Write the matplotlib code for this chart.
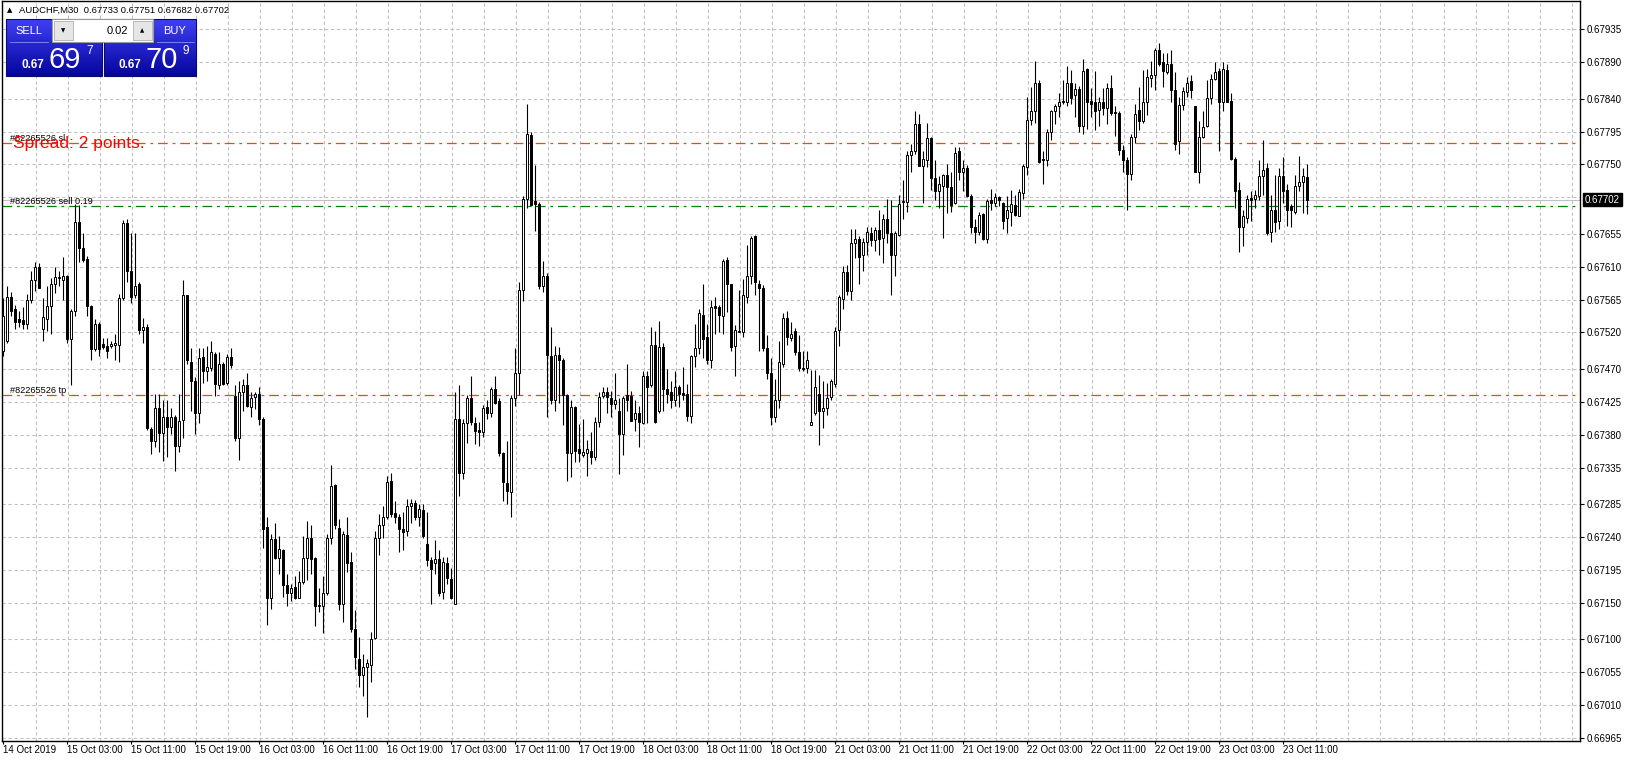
import matplotlib
matplotlib.use("Agg")
import matplotlib.pyplot as plt
import numpy as np
from matplotlib.patches import Rectangle

plt.rcParams['font.family'] = ['Liberation Sans', 'DejaVu Sans']
plt.rcParams['lines.scale_dashes'] = False

# ---------------- data (AUDCHF M30) ----------------
opens = [
    0.67494, 0.67509, 0.67569, 0.67552, 0.67538, 0.67537, 0.67531, 0.67564, 0.67592, 0.67610,
    0.67525, 0.67538, 0.67556, 0.67586, 0.67594, 0.67592, 0.67598, 0.67511, 0.67549, 0.67671,
    0.67636, 0.67621, 0.67556, 0.67497, 0.67531, 0.67504, 0.67501, 0.67501, 0.67503, 0.67503,
    0.67567, 0.67670, 0.67604, 0.67571, 0.67587, 0.67523, 0.67528, 0.67388, 0.67372, 0.67416,
    0.67382, 0.67404, 0.67390, 0.67404, 0.67364, 0.67400, 0.67571, 0.67479, 0.67453, 0.67410,
    0.67486, 0.67467, 0.67471, 0.67491, 0.67448, 0.67477, 0.67451, 0.67487, 0.67433, 0.67375,
    0.67438, 0.67448, 0.67418, 0.67432, 0.67436, 0.67401, 0.67254, 0.67157, 0.67237, 0.67212,
    0.67222, 0.67175, 0.67163, 0.67171, 0.67157, 0.67179, 0.67212, 0.67239, 0.67212, 0.67146,
    0.67146, 0.67164, 0.67239, 0.67311, 0.67253, 0.67149, 0.67243, 0.67206, 0.67114, 0.67073,
    0.67051, 0.67062, 0.67065, 0.67102, 0.67239, 0.67257, 0.67267, 0.67317, 0.67273, 0.67267,
    0.67251, 0.67249, 0.67283, 0.67286, 0.67267, 0.67277, 0.67231, 0.67208, 0.67204, 0.67210,
    0.67165, 0.67204, 0.67182, 0.67149, 0.67401, 0.67328, 0.67396, 0.67430, 0.67396, 0.67387,
    0.67384, 0.67418, 0.67410, 0.67442, 0.67426, 0.67355, 0.67314, 0.67302, 0.67430, 0.67465,
    0.67578, 0.67703, 0.67790, 0.67700, 0.67696, 0.67583, 0.67597, 0.67488, 0.67428, 0.67489,
    0.67482, 0.67434, 0.67355, 0.67418, 0.67361, 0.67352, 0.67355, 0.67358, 0.67349, 0.67397,
    0.67433, 0.67438, 0.67430, 0.67422, 0.67413, 0.67381, 0.67434, 0.67433, 0.67401, 0.67410,
    0.67396, 0.67460, 0.67448, 0.67503, 0.67413, 0.67500, 0.67442, 0.67438, 0.67427, 0.67445,
    0.67437, 0.67436, 0.67406, 0.67488, 0.67499, 0.67544, 0.67514, 0.67483, 0.67556, 0.67555,
    0.67542, 0.67619, 0.67586, 0.67501, 0.67520, 0.67520, 0.67569, 0.67597, 0.67652, 0.67587,
    0.67581, 0.67499, 0.67465, 0.67404, 0.67428, 0.67477, 0.67540, 0.67512, 0.67522, 0.67493,
    0.67471, 0.67471, 0.67393, 0.67410, 0.67436, 0.67413, 0.67416, 0.67432, 0.67450, 0.67523,
    0.67566, 0.67603, 0.67577, 0.67642, 0.67648, 0.67626, 0.67644, 0.67656, 0.67646, 0.67660,
    0.67650, 0.67675, 0.67656, 0.67626, 0.67654, 0.67699, 0.67699, 0.67763, 0.67768, 0.67806,
    0.67748, 0.67756, 0.67786, 0.67731, 0.67714, 0.67721, 0.67735, 0.67719, 0.67697, 0.67768,
    0.67740, 0.67745, 0.67707, 0.67665, 0.67658, 0.67682, 0.67648, 0.67702, 0.67697, 0.67705,
    0.67697, 0.67677, 0.67685, 0.67694, 0.67679, 0.67711, 0.67746, 0.67811, 0.67823, 0.67862,
    0.67757, 0.67756, 0.67795, 0.67823, 0.67830, 0.67836, 0.67836, 0.67861, 0.67845, 0.67853,
    0.67803, 0.67880, 0.67837, 0.67835, 0.67824, 0.67836, 0.67827, 0.67855, 0.67822, 0.67821,
    0.67770, 0.67756, 0.67737, 0.67787, 0.67825, 0.67809, 0.67835, 0.67868, 0.67872, 0.67907,
    0.67890, 0.67876, 0.67888, 0.67852, 0.67782, 0.67831, 0.67849, 0.67864, 0.67830, 0.67740,
    0.67787, 0.67803, 0.67841, 0.67867, 0.67878, 0.67836, 0.67879, 0.67837, 0.67757, 0.67715,
    0.67664, 0.67677, 0.67704, 0.67703, 0.67707, 0.67734, 0.67745, 0.67658, 0.67687, 0.67672,
    0.67734, 0.67715, 0.67693, 0.67685, 0.67721, 0.67726, 0.67733,
]
highs = [
    0.67567, 0.67583, 0.67575, 0.67558, 0.67549, 0.67555, 0.67573, 0.67604, 0.67617, 0.67615,
    0.67567, 0.67583, 0.67595, 0.67610, 0.67604, 0.67624, 0.67599, 0.67552, 0.67696, 0.67694,
    0.67656, 0.67625, 0.67558, 0.67538, 0.67534, 0.67512, 0.67512, 0.67509, 0.67518, 0.67573,
    0.67674, 0.67676, 0.67656, 0.67656, 0.67589, 0.67540, 0.67531, 0.67390, 0.67436, 0.67436,
    0.67427, 0.67427, 0.67416, 0.67407, 0.67436, 0.67592, 0.67572, 0.67499, 0.67459, 0.67499,
    0.67499, 0.67501, 0.67508, 0.67493, 0.67493, 0.67479, 0.67491, 0.67499, 0.67448, 0.67454,
    0.67456, 0.67465, 0.67439, 0.67438, 0.67446, 0.67404, 0.67267, 0.67244, 0.67259, 0.67242,
    0.67223, 0.67190, 0.67176, 0.67187, 0.67194, 0.67242, 0.67262, 0.67256, 0.67213, 0.67170,
    0.67187, 0.67244, 0.67338, 0.67312, 0.67265, 0.67249, 0.67268, 0.67220, 0.67140, 0.67103,
    0.67080, 0.67073, 0.67110, 0.67249, 0.67271, 0.67283, 0.67324, 0.67328, 0.67289, 0.67271,
    0.67274, 0.67292, 0.67292, 0.67291, 0.67285, 0.67285, 0.67274, 0.67213, 0.67236, 0.67222,
    0.67213, 0.67213, 0.67198, 0.67438, 0.67448, 0.67401, 0.67434, 0.67460, 0.67404, 0.67397,
    0.67421, 0.67428, 0.67445, 0.67460, 0.67430, 0.67357, 0.67372, 0.67434, 0.67499, 0.67589,
    0.67707, 0.67833, 0.67795, 0.67749, 0.67699, 0.67618, 0.67601, 0.67528, 0.67501, 0.67500,
    0.67485, 0.67436, 0.67428, 0.67420, 0.67395, 0.67401, 0.67373, 0.67384, 0.67404, 0.67438,
    0.67445, 0.67446, 0.67440, 0.67465, 0.67430, 0.67433, 0.67477, 0.67440, 0.67427, 0.67420,
    0.67467, 0.67467, 0.67528, 0.67522, 0.67536, 0.67506, 0.67470, 0.67454, 0.67467, 0.67448,
    0.67473, 0.67450, 0.67489, 0.67531, 0.67552, 0.67587, 0.67532, 0.67564, 0.67569, 0.67558,
    0.67621, 0.67624, 0.67587, 0.67530, 0.67578, 0.67593, 0.67640, 0.67652, 0.67653, 0.67592,
    0.67585, 0.67516, 0.67485, 0.67456, 0.67509, 0.67546, 0.67550, 0.67534, 0.67526, 0.67516,
    0.67495, 0.67495, 0.67468, 0.67468, 0.67462, 0.67454, 0.67451, 0.67456, 0.67528, 0.67572,
    0.67611, 0.67613, 0.67662, 0.67662, 0.67652, 0.67650, 0.67665, 0.67665, 0.67664, 0.67687,
    0.67682, 0.67703, 0.67702, 0.67659, 0.67708, 0.67729, 0.67768, 0.67778, 0.67823, 0.67819,
    0.67769, 0.67807, 0.67788, 0.67756, 0.67734, 0.67737, 0.67751, 0.67740, 0.67774, 0.67774,
    0.67756, 0.67749, 0.67709, 0.67675, 0.67685, 0.67683, 0.67703, 0.67717, 0.67711, 0.67707,
    0.67699, 0.67707, 0.67715, 0.67708, 0.67717, 0.67751, 0.67842, 0.67856, 0.67891, 0.67866,
    0.67768, 0.67798, 0.67824, 0.67833, 0.67848, 0.67866, 0.67885, 0.67879, 0.67861, 0.67858,
    0.67894, 0.67882, 0.67855, 0.67878, 0.67842, 0.67855, 0.67862, 0.67872, 0.67830, 0.67823,
    0.67776, 0.67760, 0.67792, 0.67833, 0.67856, 0.67879, 0.67880, 0.67891, 0.67910, 0.67916,
    0.67903, 0.67903, 0.67907, 0.67876, 0.67842, 0.67856, 0.67870, 0.67873, 0.67830, 0.67809,
    0.67823, 0.67866, 0.67874, 0.67890, 0.67882, 0.67890, 0.67888, 0.67848, 0.67760, 0.67726,
    0.67687, 0.67708, 0.67713, 0.67715, 0.67756, 0.67784, 0.67752, 0.67708, 0.67735, 0.67745,
    0.67760, 0.67723, 0.67696, 0.67735, 0.67762, 0.67745, 0.67751,
]
lows = [
    0.67488, 0.67506, 0.67543, 0.67525, 0.67528, 0.67525, 0.67525, 0.67560, 0.67577, 0.67581,
    0.67509, 0.67522, 0.67518, 0.67574, 0.67583, 0.67564, 0.67506, 0.67448, 0.67543, 0.67616,
    0.67616, 0.67543, 0.67483, 0.67494, 0.67488, 0.67497, 0.67485, 0.67499, 0.67482, 0.67479,
    0.67564, 0.67589, 0.67560, 0.67567, 0.67518, 0.67506, 0.67387, 0.67354, 0.67363, 0.67357,
    0.67344, 0.67349, 0.67381, 0.67330, 0.67357, 0.67375, 0.67477, 0.67412, 0.67381, 0.67396,
    0.67451, 0.67454, 0.67467, 0.67433, 0.67442, 0.67448, 0.67448, 0.67471, 0.67371, 0.67346,
    0.67412, 0.67418, 0.67404, 0.67415, 0.67393, 0.67225, 0.67120, 0.67141, 0.67210, 0.67190,
    0.67158, 0.67146, 0.67153, 0.67155, 0.67157, 0.67176, 0.67181, 0.67190, 0.67118, 0.67137,
    0.67109, 0.67161, 0.67231, 0.67251, 0.67140, 0.67124, 0.67192, 0.67110, 0.67060, 0.67035,
    0.67022, 0.66994, 0.67041, 0.67100, 0.67216, 0.67239, 0.67265, 0.67267, 0.67259, 0.67220,
    0.67222, 0.67241, 0.67259, 0.67263, 0.67255, 0.67239, 0.67201, 0.67149, 0.67190, 0.67159,
    0.67155, 0.67176, 0.67155, 0.67149, 0.67296, 0.67320, 0.67369, 0.67393, 0.67367, 0.67364,
    0.67377, 0.67401, 0.67404, 0.67422, 0.67351, 0.67289, 0.67285, 0.67267, 0.67420, 0.67434,
    0.67563, 0.67690, 0.67693, 0.67659, 0.67580, 0.67575, 0.67405, 0.67422, 0.67412, 0.67424,
    0.67393, 0.67317, 0.67322, 0.67343, 0.67343, 0.67349, 0.67324, 0.67340, 0.67346, 0.67391,
    0.67430, 0.67410, 0.67404, 0.67415, 0.67326, 0.67352, 0.67412, 0.67399, 0.67385, 0.67363,
    0.67395, 0.67396, 0.67445, 0.67396, 0.67410, 0.67413, 0.67424, 0.67416, 0.67420, 0.67418,
    0.67428, 0.67399, 0.67396, 0.67473, 0.67491, 0.67485, 0.67477, 0.67471, 0.67518, 0.67520,
    0.67518, 0.67548, 0.67495, 0.67460, 0.67520, 0.67514, 0.67561, 0.67587, 0.67571, 0.67495,
    0.67495, 0.67456, 0.67393, 0.67397, 0.67416, 0.67473, 0.67503, 0.67508, 0.67489, 0.67467,
    0.67467, 0.67465, 0.67393, 0.67407, 0.67366, 0.67389, 0.67407, 0.67428, 0.67446, 0.67501,
    0.67552, 0.67571, 0.67564, 0.67622, 0.67586, 0.67604, 0.67626, 0.67638, 0.67632, 0.67626,
    0.67615, 0.67642, 0.67571, 0.67597, 0.67652, 0.67675, 0.67685, 0.67740, 0.67764, 0.67748,
    0.67697, 0.67746, 0.67715, 0.67702, 0.67691, 0.67650, 0.67684, 0.67685, 0.67696, 0.67729,
    0.67714, 0.67705, 0.67656, 0.67642, 0.67654, 0.67647, 0.67642, 0.67688, 0.67693, 0.67693,
    0.67662, 0.67656, 0.67666, 0.67679, 0.67679, 0.67703, 0.67735, 0.67804, 0.67807, 0.67752,
    0.67723, 0.67748, 0.67784, 0.67806, 0.67815, 0.67833, 0.67830, 0.67833, 0.67815, 0.67795,
    0.67792, 0.67798, 0.67815, 0.67797, 0.67803, 0.67818, 0.67806, 0.67818, 0.67789, 0.67763,
    0.67740, 0.67688, 0.67729, 0.67780, 0.67797, 0.67807, 0.67817, 0.67856, 0.67852, 0.67885,
    0.67856, 0.67874, 0.67836, 0.67770, 0.67764, 0.67825, 0.67842, 0.67841, 0.67740, 0.67725,
    0.67786, 0.67801, 0.67833, 0.67866, 0.67769, 0.67823, 0.67835, 0.67756, 0.67691, 0.67630,
    0.67639, 0.67670, 0.67672, 0.67691, 0.67701, 0.67708, 0.67654, 0.67644, 0.67658, 0.67662,
    0.67697, 0.67666, 0.67664, 0.67682, 0.67714, 0.67684, 0.67682,
]
closes = [
    0.67543, 0.67569, 0.67549, 0.67534, 0.67534, 0.67531, 0.67564, 0.67592, 0.67610, 0.67581,
    0.67541, 0.67556, 0.67586, 0.67596, 0.67596, 0.67598, 0.67511, 0.67549, 0.67671, 0.67636,
    0.67619, 0.67556, 0.67497, 0.67531, 0.67497, 0.67500, 0.67494, 0.67504, 0.67506, 0.67567,
    0.67670, 0.67604, 0.67569, 0.67584, 0.67523, 0.67528, 0.67389, 0.67372, 0.67416, 0.67382,
    0.67404, 0.67390, 0.67404, 0.67364, 0.67399, 0.67571, 0.67482, 0.67453, 0.67410, 0.67485,
    0.67467, 0.67473, 0.67493, 0.67450, 0.67477, 0.67450, 0.67487, 0.67475, 0.67375, 0.67438,
    0.67448, 0.67419, 0.67430, 0.67436, 0.67401, 0.67251, 0.67157, 0.67237, 0.67212, 0.67223,
    0.67175, 0.67163, 0.67170, 0.67157, 0.67179, 0.67212, 0.67239, 0.67210, 0.67146, 0.67147,
    0.67164, 0.67239, 0.67310, 0.67256, 0.67149, 0.67244, 0.67204, 0.67114, 0.67076, 0.67051,
    0.67062, 0.67068, 0.67100, 0.67239, 0.67257, 0.67267, 0.67316, 0.67271, 0.67268, 0.67251,
    0.67247, 0.67283, 0.67286, 0.67267, 0.67279, 0.67241, 0.67208, 0.67196, 0.67210, 0.67163,
    0.67206, 0.67184, 0.67157, 0.67401, 0.67328, 0.67396, 0.67430, 0.67397, 0.67385, 0.67384,
    0.67416, 0.67410, 0.67442, 0.67424, 0.67355, 0.67316, 0.67303, 0.67430, 0.67464, 0.67578,
    0.67703, 0.67792, 0.67694, 0.67696, 0.67583, 0.67597, 0.67489, 0.67428, 0.67489, 0.67483,
    0.67434, 0.67355, 0.67418, 0.67358, 0.67355, 0.67357, 0.67360, 0.67349, 0.67397, 0.67432,
    0.67438, 0.67432, 0.67422, 0.67427, 0.67381, 0.67430, 0.67428, 0.67399, 0.67410, 0.67397,
    0.67460, 0.67446, 0.67503, 0.67397, 0.67500, 0.67442, 0.67436, 0.67427, 0.67445, 0.67436,
    0.67434, 0.67406, 0.67488, 0.67499, 0.67546, 0.67511, 0.67482, 0.67555, 0.67554, 0.67544,
    0.67618, 0.67586, 0.67500, 0.67523, 0.67522, 0.67571, 0.67597, 0.67650, 0.67589, 0.67581,
    0.67499, 0.67464, 0.67404, 0.67428, 0.67479, 0.67540, 0.67514, 0.67518, 0.67493, 0.67471,
    0.67470, 0.67482, 0.67397, 0.67446, 0.67412, 0.67416, 0.67430, 0.67453, 0.67522, 0.67569,
    0.67603, 0.67577, 0.67642, 0.67648, 0.67624, 0.67644, 0.67658, 0.67647, 0.67660, 0.67648,
    0.67675, 0.67656, 0.67626, 0.67656, 0.67696, 0.67700, 0.67763, 0.67768, 0.67806, 0.67748,
    0.67757, 0.67786, 0.67731, 0.67713, 0.67723, 0.67735, 0.67719, 0.67694, 0.67766, 0.67740,
    0.67745, 0.67707, 0.67664, 0.67658, 0.67681, 0.67648, 0.67700, 0.67697, 0.67705, 0.67702,
    0.67673, 0.67687, 0.67696, 0.67681, 0.67712, 0.67748, 0.67811, 0.67823, 0.67862, 0.67754,
    0.67756, 0.67795, 0.67823, 0.67830, 0.67836, 0.67837, 0.67861, 0.67841, 0.67853, 0.67803,
    0.67878, 0.67836, 0.67833, 0.67823, 0.67836, 0.67827, 0.67855, 0.67821, 0.67821, 0.67770,
    0.67756, 0.67737, 0.67788, 0.67819, 0.67809, 0.67835, 0.67870, 0.67873, 0.67907, 0.67888,
    0.67878, 0.67888, 0.67852, 0.67778, 0.67831, 0.67850, 0.67862, 0.67852, 0.67740, 0.67788,
    0.67801, 0.67841, 0.67867, 0.67876, 0.67836, 0.67880, 0.67836, 0.67757, 0.67714, 0.67664,
    0.67679, 0.67703, 0.67702, 0.67708, 0.67734, 0.67742, 0.67656, 0.67687, 0.67671, 0.67734,
    0.67714, 0.67688, 0.67687, 0.67721, 0.67726, 0.67734, 0.67702,
]

time_labels = ["14 Oct 2019", "15 Oct 03:00", "15 Oct 11:00", "15 Oct 19:00", "16 Oct 03:00",
               "16 Oct 11:00", "16 Oct 19:00", "17 Oct 03:00", "17 Oct 11:00", "17 Oct 19:00",
               "18 Oct 03:00", "18 Oct 11:00", "18 Oct 19:00", "21 Oct 03:00", "21 Oct 11:00",
               "21 Oct 19:00", "22 Oct 03:00", "22 Oct 11:00", "22 Oct 19:00", "23 Oct 03:00",
               "23 Oct 11:00"]
price_ticks = [0.67935, 0.67890, 0.67840, 0.67795, 0.67750, 0.67655, 0.67610, 0.67565,
               0.67520, 0.67470, 0.67425, 0.67380, 0.67335, 0.67285, 0.67240, 0.67195,
               0.67150, 0.67100, 0.67055, 0.67010, 0.66965]
sl_price = 0.67780
entry_price = 0.67693
tp_price = 0.67434
bid_price = 0.67702
order_id = "#82265526"
title_text = "AUDCHF,M30  0.67733 0.67751 0.67682 0.67702"

# ---------------- figure ----------------
W, H = 1626, 762
fig = plt.figure(figsize=(W / 100, H / 100), dpi=100)
fig.patch.set_facecolor('white')
Lp, Rp, Tp, Bp = 2, 1580, 1, 741
ax = fig.add_axes([Lp / W, 1 - Bp / H, (Rp - Lp) / W, (Bp - Tp) / H])
ax.set_facecolor('white')

n = min(len(opens), len(highs), len(lows), len(closes))
o = np.array(opens[:n]); h = np.array(highs[:n]); l = np.array(lows[:n]); c = np.array(closes[:n])
x = np.arange(n)

ax.set_xlim(-0.25, 394.25)
ax.set_ylim(0.669609, 0.679737)

grid_kw = dict(color='#c0c0c0', lw=0.75, ls=(0, (2.4, 1.9)), zorder=0.5)
for p in price_ticks + [0.67705]:
    ax.axhline(p, **grid_kw)
for k in range(49):
    ax.axvline(8.2 + 8 * k, **grid_kw)

# order / price lines
ax.axhline(bid_price, color='#c0c0c0', lw=0.8, zorder=1)
ax.axhline(sl_price, color='#ff4500', lw=0.9, ls=(0, (7, 3.5, 2, 3.5)), zorder=1.5)
ax.axhline(tp_price, color='#ff4500', lw=0.9, ls=(0, (7, 3.5, 2, 3.5)), zorder=1.5)
ax.axhline(entry_price, color='#008000', lw=0.9, ls=(0, (7, 3.5, 2, 3.5)), zorder=1.5)

# candles
up = c >= o
body_lo = np.minimum(o, c)
body_h = np.maximum(np.abs(c - o), 0.000004)
ax.vlines(x, l, h, color='black', lw=0.8, zorder=3)
ax.bar(x, body_h, bottom=body_lo, width=0.6,
       color=np.where(up, 'white', 'black'), edgecolor='black', linewidth=0.7, zorder=4)

# order labels
ytr = ax.get_yaxis_transform()
for p, lab in [(sl_price, order_id + " sl"), (entry_price, order_id + " sell 0.19"),
               (tp_price, order_id + " tp")]:
    ax.text(8 / (Rp - Lp), p, lab, transform=ytr, fontsize=6.6, color='black',
            ha='left', va='bottom', zorder=6)

# axes styling
for s in ax.spines.values():
    s.set_color('black'); s.set_linewidth(1.0)
ax.yaxis.tick_right()
ax.set_yticks(price_ticks)
ax.set_yticklabels([f"{p:.5f}" for p in price_ticks])
ax.tick_params(axis='y', length=3, width=0.8, pad=2, labelsize=7, colors='black')
ax.set_xticks([16 * k for k in range(len(time_labels))])
ax.set_xticklabels(time_labels, ha='left')
ax.tick_params(axis='x', length=2, width=0.8, pad=1, labelsize=7, colors='black')

# bid label on the price scale
ax.text(1.0 + 5 / (Rp - Lp), bid_price, f"{bid_price:.5f}", transform=ytr, fontsize=7,
        color='white', ha='left', va='center', zorder=10, clip_on=False,
        bbox=dict(boxstyle='square,pad=0.18', fc='black', ec='black'))

# ---------------- overlay (pixel coordinates) ----------------
pax = fig.add_axes([0, 0, 1, 1], zorder=20)
pax.set_xlim(0, W); pax.set_ylim(H, 0); pax.axis('off')
pax.patch.set_alpha(0)

pax.text(9.5, 10.5, "\u25B2", fontsize=5, family='DejaVu Sans', ha='center', va='center')
pax.text(19, 10.5, title_text, fontsize=6.8, ha='left', va='center')

pax.text(13, 143.5, "Spread: 2 points.", fontsize=12.5, color='#ff0000', ha='left', va='center')


def grad(x0, x1, y0, y1, ctop, cbot):
    t = np.linspace(0, 1, 64)[:, None, None]
    a = np.array(ctop)[None, None, :] * (1 - t) + np.array(cbot)[None, None, :] * t
    pax.imshow(a, extent=(x0, x1, y1, y0), origin='upper', aspect='auto',
               interpolation='bilinear', zorder=21)
    pax.add_patch(Rectangle((x0, y0), x1 - x0, y1 - y0, fill=False, ec='#0a0a70', lw=0.8, zorder=22))


top_c = (0.25, 0.25, 0.95)
bot_c = (0.02, 0.02, 0.62)
grad(6, 101.7, 19, 76, top_c, bot_c)
grad(104.3, 196, 19, 76, top_c, bot_c)
# lot box
pax.add_patch(Rectangle((52, 19), 101, 22.5, fc='white', ec='#9a9a9a', lw=0.8, zorder=23))
pax.add_patch(Rectangle((54, 20.5), 18.5, 19.5, fc='#e6e6e6', ec='#b0b0b0', lw=0.6, zorder=24))
pax.add_patch(Rectangle((132.5, 20.5), 19, 19.5, fc='#e6e6e6', ec='#b0b0b0', lw=0.6, zorder=24))
pax.text(63.2, 30.5, "\u25BC", fontsize=4, family='DejaVu Sans', ha='center', va='center', zorder=25)
pax.text(142, 30.5, "\u25B2", fontsize=4, family='DejaVu Sans', ha='center', va='center', zorder=25)
pax.text(128, 30.5, "0.02", fontsize=8, ha='right', va='center', zorder=25)
# underline of SELL / BUY
pax.plot([10, 48], [41.5, 41.5], color='#8c8cff', lw=0.6, zorder=25)
pax.plot([157, 194], [41.5, 41.5], color='#8c8cff', lw=0.6, zorder=25)
pax.text(28.5, 30.5, "SELL", fontsize=8, color='white', ha='center', va='center', zorder=25)
pax.text(175, 30.5, "BUY", fontsize=8, color='white', ha='center', va='center', zorder=25)
# prices
pax.text(21, 67.5, "0.67", fontsize=8.5, weight='bold', color='white', ha='left', va='baseline', zorder=25)
pax.text(48, 67.5, "69", fontsize=21, color='white', ha='left', va='baseline', zorder=25)
pax.text(86, 54, "7", fontsize=8.5, color='white', ha='left', va='baseline', zorder=25)
pax.text(118, 67.5, "0.67", fontsize=8.5, weight='bold', color='white', ha='left', va='baseline', zorder=25)
pax.text(145, 67.5, "70", fontsize=21, color='white', ha='left', va='baseline', zorder=25)
pax.text(182, 54, "9", fontsize=8.5, color='white', ha='left', va='baseline', zorder=25)
pax.set_xlim(0, W); pax.set_ylim(H, 0)

fig.savefig("out.png", dpi=100, facecolor='white')
